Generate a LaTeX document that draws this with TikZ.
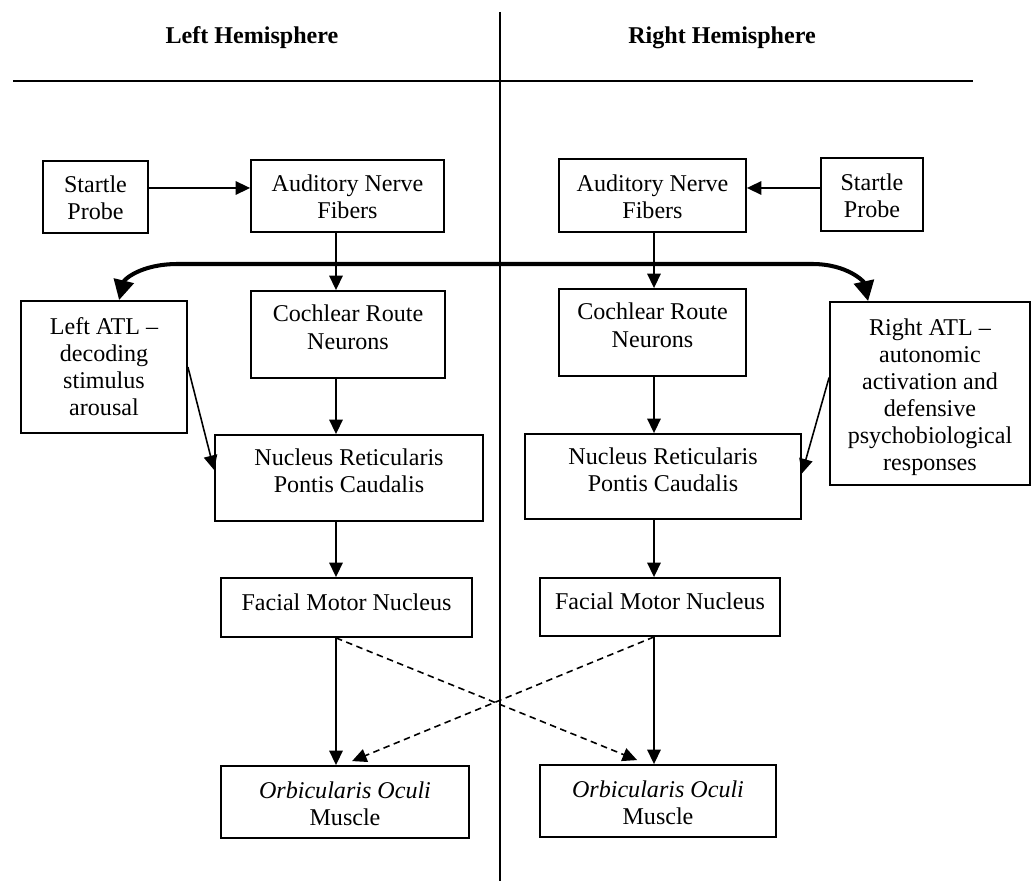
\documentclass[tikz,border=0pt]{standalone}
\usepackage{fontspec}
\setmainfont{Liberation Serif}
\usetikzlibrary{arrows.meta,calc}

% Box text: stacked centred lines, shifted vertically inside the box
\newcommand\boxlines[2][-2.3pt]{\raisebox{#1}[\height][\depth]{\begin{tabular}{@{}c@{}}#2\end{tabular}}}

\begin{document}
\begin{tikzpicture}[
  x=0.02cm, y=-0.02cm,
  font=\fontsize{13.7}{15.4}\selectfont,
  box/.style={draw, line width=1.05pt, inner sep=0pt},
  link/.style={line width=0.9pt, -{Triangle[length=0.29cm,width=0.27cm]}},
  cross/.style={link, dash pattern=on 0.13cm off 0.09cm},
  bridge/.style={line width=2.3pt,
    {Triangle[length=0.4cm,width=0.4cm]}-{Triangle[length=0.4cm,width=0.4cm]}},
  divider/.style={line width=0.8pt},
  heading/.style={font=\fontsize{13.7}{15.4}\selectfont\bfseries}
]
\useasboundingbox (0,0) rectangle (1032,881);

% Hemisphere headings and dividing lines
\node[heading] (hL) at (252,38) {Left Hemisphere};
\node[heading] (hR) at (722,38) {Right Hemisphere};
\draw[divider] (13,81) -- (973,81);
\draw[divider] (500,12) -- (500,881);

% Left hemisphere
\node[box, minimum width=2.10cm, minimum height=1.44cm] (sL) at (95.5,197) {\boxlines{Startle\\Probe}};
\node[box, minimum width=3.86cm, minimum height=1.44cm] (aL) at (347.5,196) {\boxlines{Auditory Nerve\\Fibers}};
\node[box, minimum width=3.88cm, minimum height=1.74cm] (cL) at (348,334.5) {\boxlines[2.5pt]{Cochlear Route\\Neurons}};
\node[box, minimum width=3.32cm, minimum height=2.64cm] (atlL) at (104,367) {\boxlines[-1.4pt]{Left ATL –\\decoding\\stimulus\\arousal}};
\node[box, minimum width=5.36cm, minimum height=1.72cm] (nL) at (349,478) {\boxlines[2.3pt]{Nucleus Reticularis\\Pontis Caudalis}};
\node[box, minimum width=5.02cm, minimum height=1.18cm] (fL) at (346.5,607.5) {\boxlines[1.4pt]{Facial Motor Nucleus}};
\node[box, minimum width=4.96cm, minimum height=1.44cm] (oL) at (345,802) {\boxlines[-2.5pt]{\textit{Orbicularis Oculi}\\Muscle}};

% Right hemisphere
\node[box, minimum width=2.04cm, minimum height=1.46cm] (sR) at (872,194.5) {\boxlines{Startle\\Probe}};
\node[box, minimum width=3.74cm, minimum height=1.46cm] (aR) at (652.5,195.5) {\boxlines{Auditory Nerve\\Fibers}};
\node[box, minimum width=3.74cm, minimum height=1.74cm] (cR) at (652.5,332.5) {\boxlines[2.5pt]{Cochlear Route\\Neurons}};
\node[box, minimum width=4.00cm, minimum height=3.66cm] (atlR) at (930,393.5) {\boxlines{Right ATL –\\autonomic\\activation and\\defensive\\psychobiological\\responses}};
\node[box, minimum width=5.52cm, minimum height=1.70cm] (nR) at (663,476.5) {\boxlines[2.3pt]{Nucleus Reticularis\\Pontis Caudalis}};
\node[box, minimum width=4.80cm, minimum height=1.16cm] (fR) at (660,607) {\boxlines[1.4pt]{Facial Motor Nucleus}};
\node[box, minimum width=4.72cm, minimum height=1.44cm] (oR) at (658,801) {\boxlines[-2.5pt]{\textit{Orbicularis Oculi}\\Muscle}};

% Guide positions for the straight connectors
\coordinate (colL) at (336,0);
\coordinate (colR) at (654,0);
\coordinate (probeRow) at (0,188);

% Probe inputs
\draw[link] (sL.east |- probeRow) -- (aL.west |- probeRow);
\draw[link] (sR.west |- probeRow) -- (aR.east |- probeRow);

% Descending pathway in each hemisphere
\foreach \a/\b in {aL/cL, cL/nL, nL/fL, fL/oL}
  \draw[link] (\a.south -| colL) -- (\b.north -| colL);
\foreach \a/\b in {aR/cR, cR/nR, nR/fR, fR/oR}
  \draw[link] (\a.south -| colR) -- (\b.north -| colR);

% ATL modulation of the reticular nucleus
\draw[link] (atlL.east) -- ($(nL.west)+(0,-8)$);
\draw[link] ($(atlR.west)+(0,-16)$) -- ($(nR.east)+(0,-3)$);

% Crossed facial projections
\draw[cross] (fL.south -| colL) -- ($(oR.north west)+(98,-4)$);
\draw[cross] (fR.south -| colR) -- ($(oL.north west)+(132,-4)$);

% Bilateral link between the two ATLs
\draw[bridge] ($(atlL.north west)+(99,0)$) .. controls (124,280) and (140,264) .. (178,264)
  -- (812,264) .. controls (848,264) and (864,282) .. ($(atlR.north west)+(39,0)$);
\end{tikzpicture}
\end{document}
